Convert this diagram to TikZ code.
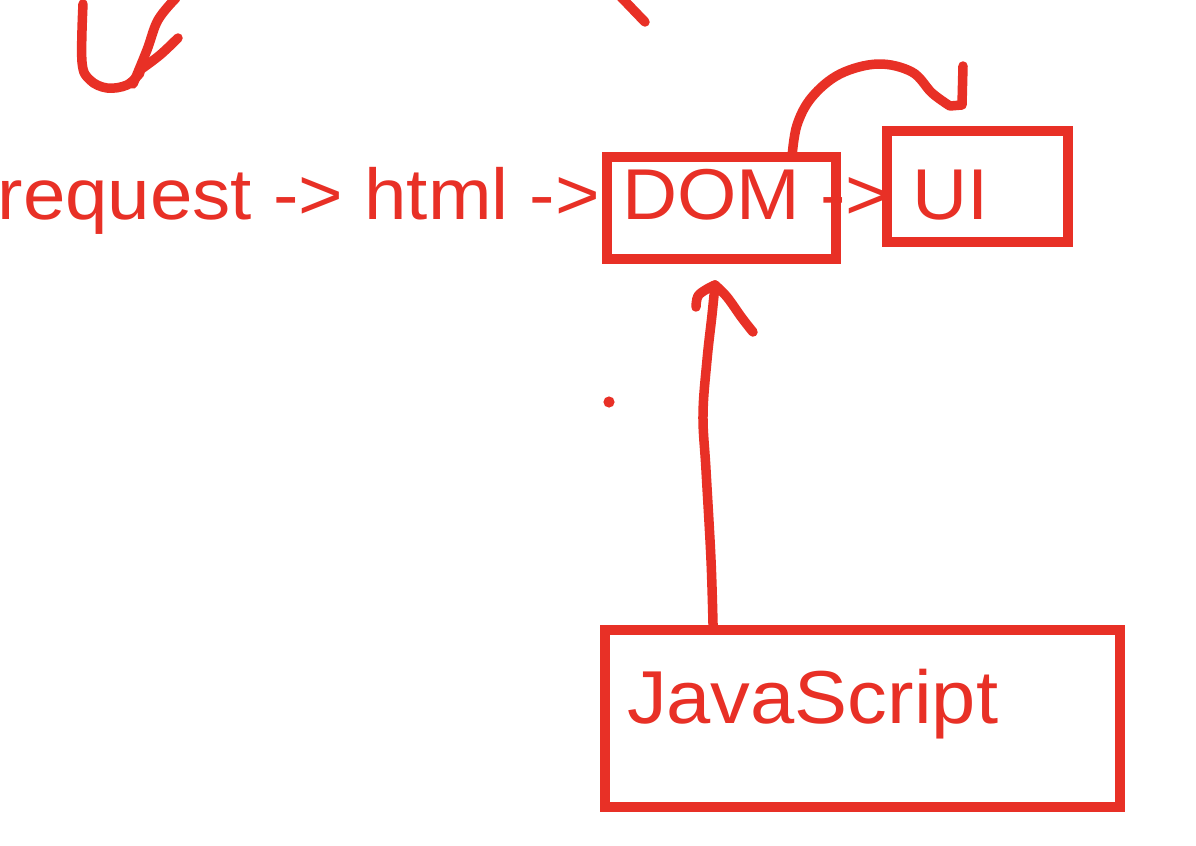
\documentclass[tikz,border=0pt]{standalone}
\usepackage{fontspec}
\setmainfont{Liberation Sans}
\usetikzlibrary{fit,calc}
\definecolor{ink}{RGB}{232,48,38}
\newcommand{\hwide}[1]{\scalebox{1.06}[1]{#1}}
\begin{document}
\begin{tikzpicture}[x=0.5pt,y=-0.5pt,
  box/.style={draw=ink, line width=5pt, rectangle, inner sep=0pt, outer sep=0pt},
  lbl/.style={text=ink, inner sep=0pt, outer sep=0pt, font=\fontsize{36}{42}\selectfont},
  biglbl/.style={lbl, font=\fontsize{37.5}{44}\selectfont},
  pen/.style={draw=ink, line width=4.75pt, line cap=round, line join=round}]
\useasboundingbox[fill=white] (0,0) rectangle (1196,846);

% boxes
\node[box, fit={(606.5,157) (835.5,258.5)}] (dom) {};
\node[box, fit={(887,130.5) (1068,242)}] (ui) {};
\node[box, fit={(605,630) (1120,807)}] (js) {};

% texts
\node[lbl, anchor=base east] (req) at (600,219) {\hwide{request -> html ->}};
\node[lbl, anchor=base west] (domtxt) at (622,219) {\hwide{DOM}};
\node[lbl, anchor=base west] (arr) at (820,219) {\hwide{->}};
\node[lbl, anchor=base west] (uitxt) at (912,219) {\hwide{UI}};
\node[biglbl, anchor=base west] (jstxt) at (627,723) {\hwide{JavaScript}};

% DOM -> UI hooked stroke
\coordinate (hs) at ($(dom.north west)!0.81!(dom.north east)$);
\coordinate (he) at (963,66);
\draw[pen] plot[smooth, tension=0.6] coordinates {(hs) (797,125) (812,97) (840,74) (878,64) (912,72) (932,93) (950,106)} -- (962,105) -- (he);

% JavaScript -> DOM arrow
\coordinate (as) at ($(js.north west)!0.21!(js.north east)$);
\coordinate (tip) at (715,285);
\draw[pen] plot[smooth, tension=0.6] coordinates {(as) (711,560) (706,470) (703,415) (707,360) (712,315) (tip)};
\draw[pen] plot[smooth, tension=0.6] coordinates {(696,307) (698,296) (707,289) (tip)};
\draw[pen] plot[smooth, tension=0.6] coordinates {(tip) (727,297) (742,318) (753,332)};

% stray dot
\fill[ink] (609,402) circle[radius=2.8pt];

% top-left partial strokes
\draw[pen] plot[smooth, tension=0.6] coordinates {(83,4) (82,62) (90,80) (107,88) (127,85) (140,73)};
\draw[pen] plot[smooth, tension=0.6] coordinates {(176,-2) (158,20) (147,50) (133,84)};
\draw[pen] plot[smooth, tension=0.6] coordinates {(178,38) (160,55) (140,70)};

% top-middle partial stroke
\draw[pen] (620,-4) -- (645,22);
\end{tikzpicture}
\end{document}
